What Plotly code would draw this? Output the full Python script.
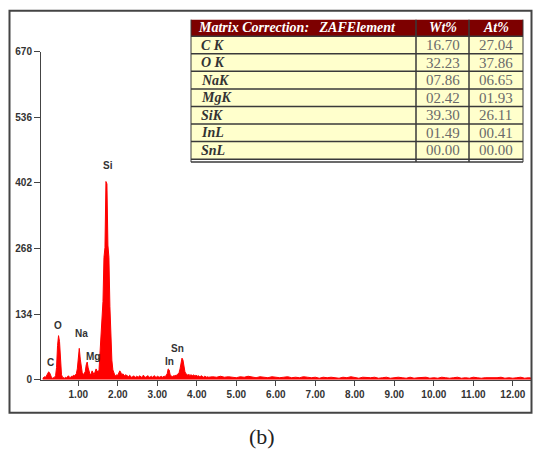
import plotly.graph_objects as go

# ---------------- data ----------------
# EDS spectrum, fine part: energies start at 0.100 keV, step 0.025 keV
fine_start = 0.100
fine_step = 0.025
fine_counts = [
    3, 4, 6, 5,              # 0.100-0.175
    8, 12,                   # 0.200-0.225
    16, 14,                  # 0.250-0.275  C
    7, 4, 3, 4,              # 0.300-0.375
    5, 8,                    # 0.400-0.425
    25, 70, 90, 78,          # 0.450-0.525  O
    35, 10, 5, 4,            # 0.550-0.625
    3, 5, 4, 6, 8, 5, 4, 7, 6, 9, 8, 10, 12,   # 0.650-0.950
    22, 50, 64, 42, 22, 14,  # 0.975-1.100  Na
    10, 12, 16,              # 1.125-1.175
    30, 36, 24, 14,          # 1.200-1.275  Mg
    10, 12, 18, 14, 10, 16, 22, 18, 15, 20,    # 1.300-1.525
    60, 80, 110, 160, 250, 270, 405, 400, 275, 250, 150, 70, 40, 20, 12,  # 1.550-1.900 Si
    9, 8, 10, 9, 14, 18, 15, 10, 12, 9, 8, 10,  # 1.925-2.200
    8, 7, 6, 9, 7, 5, 6, 8, 6, 5, 7, 6, 5, 8, 6, 5, 7, 9, 6, 5, 6,
    8, 7, 5, 6, 7, 5, 6, 8, 6, 5, 7, 6, 5, 6, 7, 5, 6, 7, 6, 8,  # 2.225-3.225
    12, 22, 20, 10, 7,       # 3.250-3.350  In
    6, 8, 7, 9, 8, 10, 12, 14,  # 3.375-3.550
    22, 34, 44, 40, 26, 16, 12,  # 3.575-3.725  Sn
    10, 9, 11, 8, 10, 9, 8, 10, 7, 9, 8, 7, 8, 6, 7, 8, 6, 5, 7, 6, 5, 6, 5,  # 3.750-4.300
]
# coarse tail: energies start at 4.4 keV, step 0.1 keV
tail_start = 4.4
tail_step = 0.1
tail_counts = [
    6, 5, 7, 5, 6, 5, 4, 6, 5, 7,
    5, 4, 6, 5, 4, 6, 5, 4, 5, 6,
    4, 5, 4, 6, 5, 4, 5, 3, 5, 4,
    5, 4, 3, 5, 4, 6, 4, 3, 5, 4,
    4, 5, 3, 4, 5, 3, 4, 5, 4, 3,
    5, 3, 4, 4, 5, 3, 4, 3, 5, 4,
    3, 4, 5, 3, 4, 3, 5, 4, 3, 4,
    4, 3, 4, 5, 3, 4, 3, 4, 5, 3,
    4, 3,
]

peak_labels = ["C", "O", "Na", "Mg", "Si", "In", "Sn"]
peak_label_x = [0.30, 0.49, 1.09, 1.36, 1.76, 3.30, 3.52]
peak_label_y = [36, 110, 94, 48, 437, 38, 64]

y_tickvals = [0, 134, 268, 402, 536, 670]
x_tickvals = [1, 2, 3, 4, 5, 6, 7, 8, 9, 10, 11, 12]
x_ticktext = ["1.00", "2.00", "3.00", "4.00", "5.00", "6.00", "7.00",
              "8.00", "9.00", "10.00", "11.00", "12.00"]

table_header = ["Matrix Correction:   ZAFElement", "Wt%", "At%"]
table_elements = ["C K", "O K", "NaK", "MgK", "SiK", "InL", "SnL"]
table_wt = ["16.70", "32.23", "07.86", "02.42", "39.30", "01.49", "00.00"]
table_at = ["27.04", "37.86", "06.65", "01.93", "26.11", "00.41", "00.00"]

# ---------------- figure ----------------
W, H = 541, 453
fine_e = [fine_start + fine_step * i for i in range(len(fine_counts))]
tail_e = [tail_start + tail_step * i for i in range(len(tail_counts))]
energy = fine_e + tail_e
counts = fine_counts + tail_counts


def px_x(p):
    return p / W


def px_y(p):
    return (H - p) / H


fig = go.Figure()
fig.add_trace(go.Scatter(
    x=energy, y=counts, mode="lines",
    line=dict(color="#ff0000", width=1),
    fill="tozeroy", fillcolor="#ff0000",
    hoverinfo="skip", showlegend=False,
))

tickfont = dict(family="Liberation Sans", size=10, color="#333333", weight="bold")

annotations = []
for lab, lx, ly in zip(peak_labels, peak_label_x, peak_label_y):
    annotations.append(dict(x=lx, y=ly, text=lab, showarrow=False,
                            xref="x", yref="y", font=tickfont))

# ---- table drawn with shapes + text ----
tbl_left, tbl_right = 191, 523
col_edges = [191, 416, 469, 523]
hdr_top, hdr_h, row_h = 15, 17, 18
n_rows = len(table_elements)
body_top = hdr_top + hdr_h
body_bot = body_top + row_h * n_rows

shapes = [
    # outer frame
    dict(type="rect", xref="paper", yref="paper",
         x0=px_x(9.5), x1=px_x(531.5), y0=px_y(418), y1=px_y(6),
         line=dict(color="#444444", width=2), fillcolor="rgba(0,0,0,0)"),
    # header
    dict(type="rect", xref="paper", yref="paper",
         x0=px_x(tbl_left), x1=px_x(tbl_right), y0=px_y(body_top), y1=px_y(hdr_top),
         line=dict(width=0), fillcolor="#7d0000"),
    # body
    dict(type="rect", xref="paper", yref="paper",
         x0=px_x(tbl_left), x1=px_x(tbl_right), y0=px_y(body_bot), y1=px_y(body_top),
         line=dict(width=0), fillcolor="#ffffcc"),
]
line_col = "#3a3a3a"
# horizontal row lines
for i in range(n_rows + 1):
    yy = body_top + row_h * i
    shapes.append(dict(type="line", xref="paper", yref="paper",
                       x0=px_x(tbl_left), x1=px_x(tbl_right),
                       y0=px_y(yy), y1=px_y(yy),
                       line=dict(color=line_col, width=1.5)))
# double bottom line
shapes.append(dict(type="line", xref="paper", yref="paper",
                   x0=px_x(tbl_left), x1=px_x(tbl_right),
                   y0=px_y(body_bot + 3), y1=px_y(body_bot + 3),
                   line=dict(color=line_col, width=1.5)))
# vertical lines
for j, xx in enumerate(col_edges):
    shapes.append(dict(type="line", xref="paper", yref="paper",
                       x0=px_x(xx), x1=px_x(xx),
                       y0=px_y(body_bot + 3), y1=px_y(hdr_top),
                       line=dict(color=line_col, width=1.5 if j in (1, 2) else 1)))

serif = "Liberation Serif"
hdr_font = dict(family=serif, size=14, color="white", weight="bold", style="italic")
name_font = dict(family=serif, size=14, color="#333333", weight="bold", style="italic")
val_font = dict(family=serif, size=15, color="#6a6a6a")

hdr_y = px_y(hdr_top + hdr_h / 2)
annotations.append(dict(text=table_header[0].replace(" ", "\u00a0"), x=px_x(col_edges[0] + 5),
                        y=hdr_y, xref="paper", yref="paper", xanchor="left",
                        yanchor="middle", showarrow=False, font=hdr_font))
for k in (1, 2):
    annotations.append(dict(text=table_header[k], x=px_x((col_edges[k] + col_edges[k + 1]) / 2),
                            y=hdr_y, xref="paper", yref="paper", xanchor="center",
                            yanchor="middle", showarrow=False, font=hdr_font))
for i in range(n_rows):
    yc = px_y(body_top + row_h * i + row_h / 2)
    annotations.append(dict(text=table_elements[i].replace(" ", "\u00a0"),
                            x=px_x(col_edges[0] + 8), y=yc,
                            xref="paper", yref="paper", xanchor="left", yanchor="middle",
                            showarrow=False, font=name_font))
    for k, col in ((1, table_wt), (2, table_at)):
        annotations.append(dict(text=col[i], x=px_x((col_edges[k] + col_edges[k + 1]) / 2),
                                y=yc, xref="paper", yref="paper", xanchor="center",
                                yanchor="middle", showarrow=False, font=val_font))

annotations.append(dict(text="(b)", x=px_x(262), y=px_y(427), xref="paper", yref="paper",
                        xanchor="center", yanchor="top", showarrow=False,
                        font=dict(family=serif, size=22, color="#222222")))

fig.update_layout(
    width=W, height=H,
    margin=dict(l=0, r=0, t=0, b=0),
    paper_bgcolor="white", plot_bgcolor="white",
    shapes=shapes,
    annotations=annotations,
    xaxis=dict(
        domain=[px_x(41), px_x(532)],
        range=[0.056, 12.485],
        tickvals=x_tickvals, ticktext=x_ticktext,
        ticks="outside", ticklen=5, tickcolor="#444444", tickwidth=1,
        showline=True, linecolor="#444444", linewidth=1,
        showgrid=False, zeroline=False, tickfont=tickfont,
        fixedrange=True,
    ),
    yaxis=dict(
        domain=[px_y(384), px_y(48)],
        range=[0, 670],
        tickvals=y_tickvals,
        ticks="outside", ticklen=6, tickcolor="#444444", tickwidth=1,
        showline=True, linecolor="#444444", linewidth=1,
        showgrid=False, zeroline=False, tickfont=tickfont,
        fixedrange=True,
    ),
)

fig.write_html("out.html", config=dict(displayModeBar=False))
